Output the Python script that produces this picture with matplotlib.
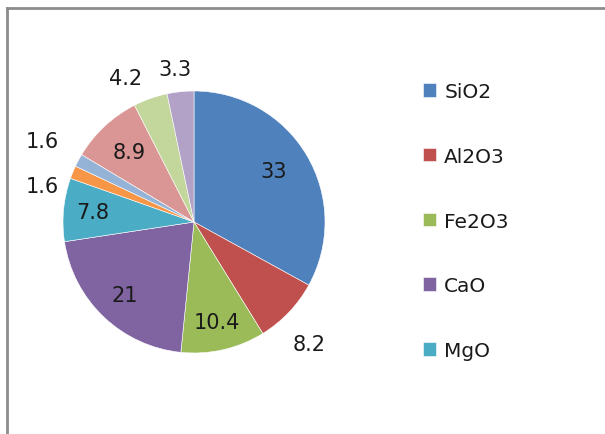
import numpy as np
import matplotlib.pyplot as plt
from matplotlib.lines import Line2D

# Data
legend_names = ["SiO2", "Al2O3", "Fe2O3", "CaO", "MgO"]
values = [33, 8.2, 10.4, 21, 7.8, 1.6, 1.6, 8.9, 4.2, 3.3]
value_labels = ["33", "8.2", "10.4", "21", "7.8", "1.6", "1.6", "8.9", "4.2", "3.3"]

colors = ["#4F81BD", "#C0504D", "#9BBB59", "#8064A2", "#4BACC6",
          "#F79646", "#95B3D7", "#DA9694", "#C3D69B", "#B3A2C7"]

# where each value label goes (fraction of radius), and small angle nudges (deg)
label_dist = [0.72, 1.28, 0.78, 0.77, 0.78, 1.19, 1.31, 0.73, 1.22, 1.18]
label_nudge = [2, -3, 0, 0, 0, 9, 0, 0, 6, 1]

W, H = 605, 435
fig = plt.figure(figsize=(W / 100, H / 100), dpi=100)
fig.patch.set_facecolor("white")

# pie centre (194, 223) px, radius 131 px; axes limits are +-1.25
cx, cy, R = 194, 223, 131
side = R * 1.25 * 2
ax = fig.add_axes([(cx - side / 2) / W, (H - cy - side / 2) / H, side / W, side / H])

wedges, _ = ax.pie(values, colors=colors, startangle=90, counterclock=False,
                   wedgeprops=dict(edgecolor="white", linewidth=0.4))
ax.set_xlim(-1.25, 1.25)
ax.set_ylim(-1.25, 1.25)
ax.set_aspect("equal")

for w, lab, d, nudge in zip(wedges, value_labels, label_dist, label_nudge):
    ang = np.deg2rad((w.theta1 + w.theta2) / 2 + nudge)
    ax.text(d * np.cos(ang), d * np.sin(ang), lab, ha="center", va="center",
            fontsize=15, color="#1a1a1a", clip_on=False)

leg = fig.legend(wedges[:5], legend_names, loc="upper left",
                 bbox_to_anchor=(413 / W, 1 - 73 / H), frameon=False,
                 fontsize=14.5, labelspacing=2.27, handlelength=0.65,
                 handleheight=0.65, handletextpad=0.4, borderpad=0)
for t in leg.get_texts():
    t.set_color("#1a1a1a")

# grey chart-area border on top and left
fig.add_artist(Line2D([7 / W, 1], [1 - 9 / H, 1 - 9 / H], color="#8c8c8c", linewidth=2))
fig.add_artist(Line2D([7 / W, 7 / W], [0, 1 - 9 / H], color="#8c8c8c", linewidth=2))

fig.savefig("out.png", dpi=100)
